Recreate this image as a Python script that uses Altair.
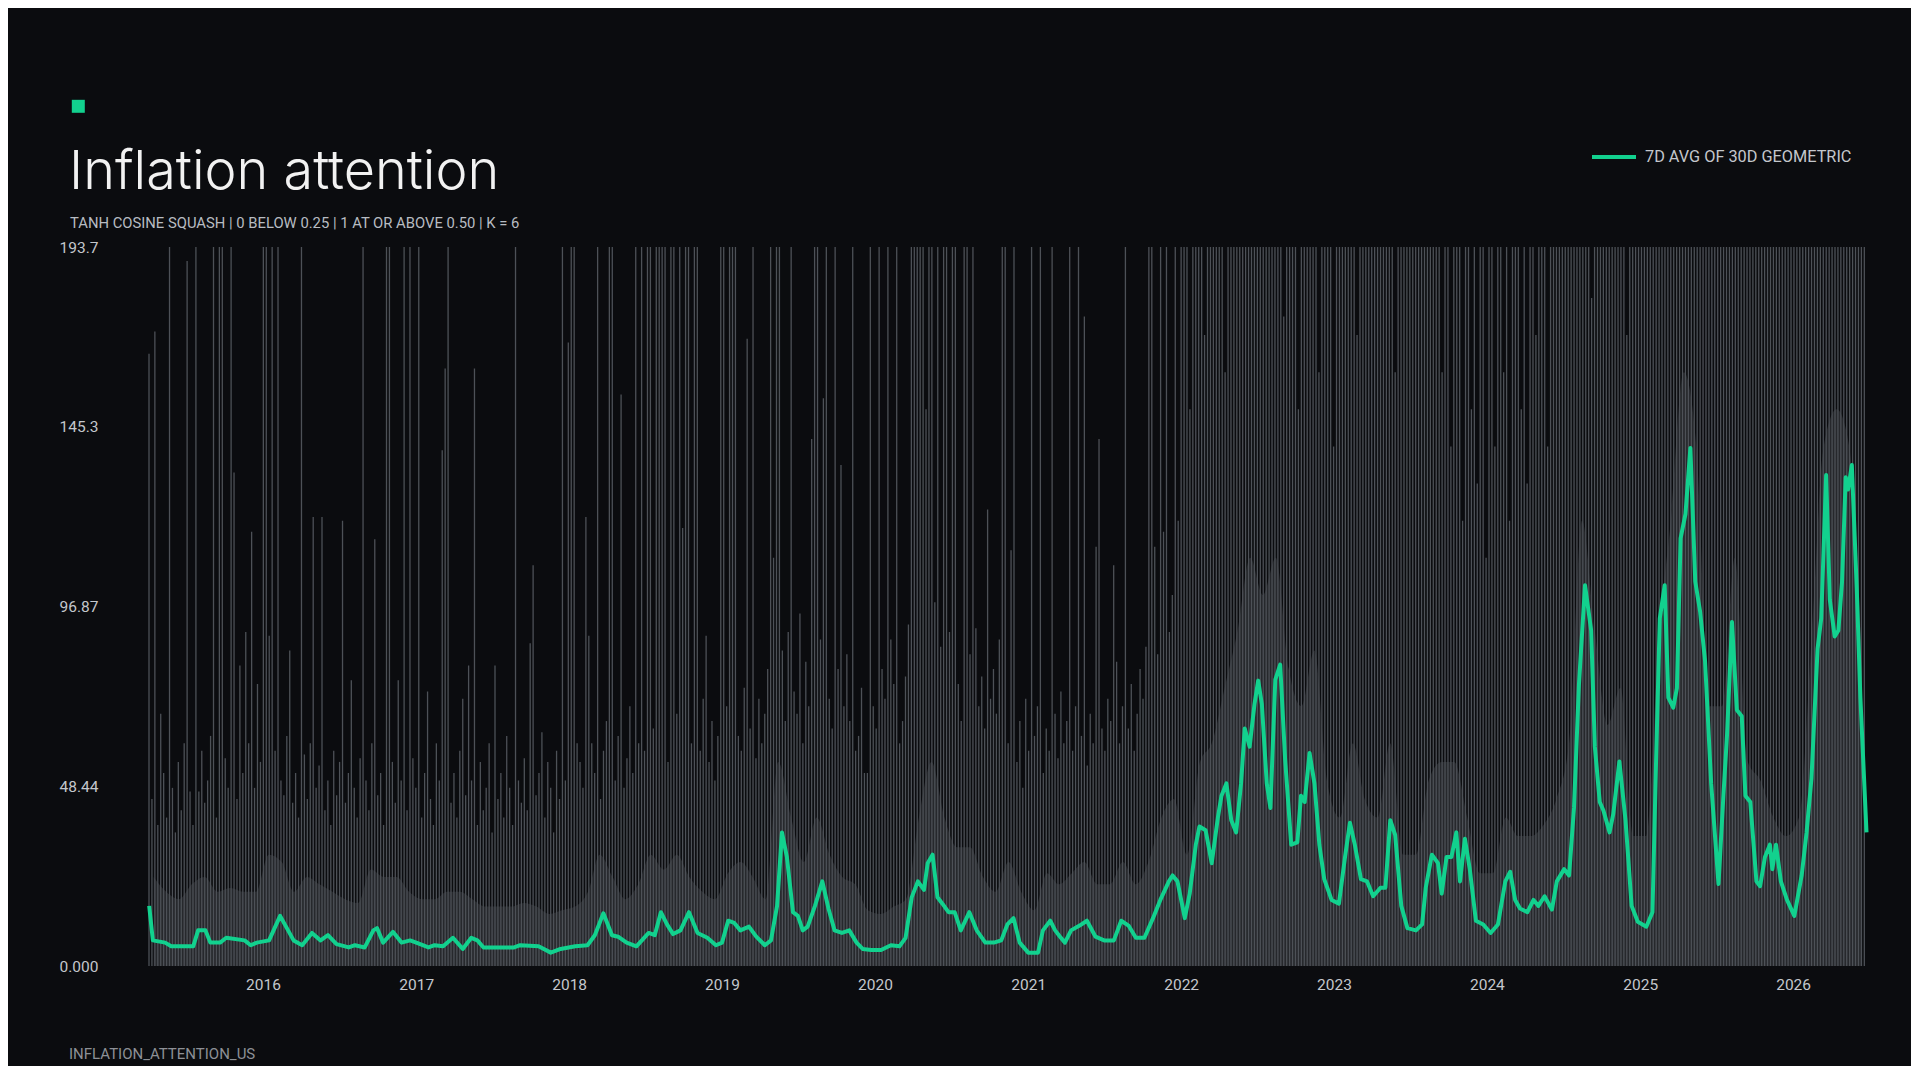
import altair as alt
import pandas as pd

TITLE = "Inflation attention"
SUBTITLE = "TANH COSINE SQUASH | 0 BELOW 0.25 | 1 AT OR ABOVE 0.50 | K = 6"
FOOTER = "INFLATION_ATTENTION_US"
SERIES = "7D AVG OF 30D GEOMETRIC"

GREEN = "#12d18e"
BG = "#0b0c0f"

y_tick_values = [0, 48.436, 96.872, 145.308, 193.744]
y_tick_labels = ["0.000", "48.44", "96.87", "145.3", "193.7"]
x_tick_years = [2016, 2017, 2018, 2019, 2020, 2021, 2022, 2023, 2024, 2025, 2026]

# 7D avg of 30D geometric (decimal year, value)
green_year = [
    2015.256, 2015.28, 2015.36, 2015.40, 2015.544, 2015.576, 2015.624, 2015.656, 2015.72, 2015.76,
    2015.88, 2015.92, 2015.96, 2016.04, 2016.112, 2016.2, 2016.256, 2016.32, 2016.376, 2016.424,
    2016.48, 2016.56, 2016.6, 2016.664, 2016.72, 2016.744, 2016.784, 2016.848, 2016.904, 2016.96,
    2017.0, 2017.08, 2017.12, 2017.176, 2017.24, 2017.304, 2017.36, 2017.4, 2017.44, 2017.64,
    2017.68, 2017.8, 2017.88, 2017.944, 2018.04, 2018.12, 2018.168, 2018.224, 2018.28, 2018.32,
    2018.376, 2018.44, 2018.52, 2018.56, 2018.6, 2018.64, 2018.68, 2018.728, 2018.784, 2018.84,
    2018.904, 2018.96, 2019.0, 2019.04, 2019.08, 2019.12, 2019.176, 2019.224, 2019.28, 2019.32,
    2019.36, 2019.392, 2019.424, 2019.464, 2019.496, 2019.528, 2019.56, 2019.608, 2019.656, 2019.696,
    2019.736, 2019.784, 2019.832, 2019.88, 2019.92, 2019.976, 2020.04, 2020.104, 2020.16, 2020.2,
    2020.24, 2020.28, 2020.32, 2020.344, 2020.376, 2020.408, 2020.44, 2020.48, 2020.52, 2020.56,
    2020.616, 2020.664, 2020.72, 2020.776, 2020.824, 2020.864, 2020.904, 2020.944, 2021.0, 2021.064,
    2021.096, 2021.144, 2021.176, 2021.208, 2021.24, 2021.28, 2021.336, 2021.384, 2021.44, 2021.496,
    2021.56, 2021.608, 2021.656, 2021.704, 2021.76, 2021.816, 2021.864, 2021.92, 2021.944, 2021.976,
    2022.024, 2022.056, 2022.096, 2022.12, 2022.16, 2022.2, 2022.24, 2022.264, 2022.296, 2022.328,
    2022.36, 2022.392, 2022.416, 2022.448, 2022.48, 2022.504, 2022.528, 2022.56, 2022.584, 2022.616,
    2022.648, 2022.68, 2022.72, 2022.76, 2022.784, 2022.808, 2022.84, 2022.872, 2022.904, 2022.936,
    2022.984, 2023.032, 2023.072, 2023.104, 2023.136, 2023.176, 2023.216, 2023.256, 2023.304, 2023.336,
    2023.368, 2023.4, 2023.44, 2023.48, 2023.536, 2023.576, 2023.6, 2023.64, 2023.68, 2023.704,
    2023.736, 2023.768, 2023.8, 2023.824, 2023.856, 2023.888, 2023.928, 2023.976, 2024.024, 2024.072,
    2024.12, 2024.152, 2024.184, 2024.216, 2024.264, 2024.304, 2024.336, 2024.376, 2024.424, 2024.456,
    2024.504, 2024.536, 2024.568, 2024.6, 2024.64, 2024.68, 2024.704, 2024.736, 2024.76, 2024.8,
    2024.824, 2024.864, 2024.904, 2024.944, 2024.984, 2025.04, 2025.08, 2025.104, 2025.128, 2025.16,
    2025.184, 2025.216, 2025.24, 2025.264, 2025.296, 2025.328, 2025.36, 2025.392, 2025.424, 2025.464,
    2025.512, 2025.544, 2025.568, 2025.6, 2025.632, 2025.664, 2025.688, 2025.72, 2025.76, 2025.784,
    2025.816, 2025.848, 2025.864, 2025.888, 2025.92, 2025.96, 2026.008, 2026.056, 2026.088, 2026.12,
    2026.16, 2026.184, 2026.216, 2026.24, 2026.272, 2026.296, 2026.32, 2026.344, 2026.36, 2026.384,
    2026.416, 2026.44, 2026.48,
]
green_value = [
    16.2, 6.9, 6.3, 5.3, 5.3, 9.6, 9.6, 6.3, 6.3, 7.6,
    6.9, 5.6, 6.3, 6.9, 13.5, 6.9, 5.6, 8.9, 6.9, 8.3,
    5.9, 5.0, 5.6, 5.0, 9.6, 10.2, 6.3, 9.2, 6.3, 6.9,
    6.3, 5.0, 5.6, 5.3, 7.6, 4.6, 7.6, 6.9, 5.0, 5.0,
    5.6, 5.3, 3.6, 4.6, 5.3, 5.6, 8.3, 14.2, 8.3, 7.9,
    6.3, 5.3, 8.9, 8.3, 14.5, 11.2, 8.6, 9.6, 14.5, 8.9,
    7.6, 5.6, 6.3, 12.2, 11.6, 9.6, 10.6, 7.9, 5.6, 6.9,
    16.2, 36.0, 29.4, 14.5, 13.5, 9.6, 10.6, 16.2, 22.8, 15.5,
    9.6, 8.9, 9.6, 6.3, 4.6, 4.3, 4.3, 5.6, 5.3, 7.6,
    18.5, 22.8, 20.5, 27.7, 30.0, 18.5, 16.8, 14.5, 14.5, 9.6,
    14.5, 9.6, 6.3, 6.3, 6.9, 11.2, 12.9, 6.3, 3.6, 3.6,
    9.6, 12.2, 9.6, 7.9, 6.3, 9.6, 10.9, 12.2, 7.9, 6.9,
    6.9, 12.2, 10.9, 7.6, 7.6, 12.9, 17.8, 22.8, 24.4, 22.8,
    12.9, 19.5, 32.7, 37.6, 36.6, 27.7, 39.9, 45.9, 49.2, 39.3,
    36.0, 49.2, 64.0, 59.1, 70.6, 76.9, 70.6, 49.2, 42.6, 77.2,
    81.2, 55.8, 32.7, 33.3, 45.9, 44.2, 57.4, 49.2, 32.7, 23.4,
    17.8, 16.8, 29.4, 38.6, 32.7, 23.4, 22.8, 18.8, 21.1, 21.1,
    39.3, 35.3, 16.2, 10.2, 9.6, 11.2, 21.1, 30.0, 27.7, 19.5,
    29.4, 29.4, 36.0, 22.8, 34.3, 26.1, 12.2, 11.2, 8.9, 11.2,
    22.8, 25.4, 17.8, 15.5, 14.5, 17.8, 16.2, 18.8, 15.2, 22.8,
    26.1, 24.4, 42.6, 75.6, 102.6, 90.4, 59.1, 44.2, 41.9, 36.0,
    40.9, 55.1, 39.3, 16.2, 11.9, 10.6, 14.5, 55.8, 93.7, 102.6,
    72.3, 69.6, 74.9, 115.2, 121.8, 139.6, 103.6, 95.4, 82.2, 49.2,
    22.1, 45.9, 62.4, 92.7, 69.0, 67.3, 45.9, 44.2, 22.8, 21.5,
    29.4, 32.7, 26.1, 32.7, 22.8, 17.8, 13.5, 24.4, 36.0, 50.5,
    85.5, 93.7, 132.3, 98.7, 88.8, 90.4, 103.6, 131.7, 128.4, 135.0,
    102.0, 72.3, 36.0,
]

# weekly peak of the daily bars, weeks starting 2015-04-04 (194 = runs past the top)
spike_start = "2015-04-04"
spikes_a = [
    165, 45, 171, 38, 68, 52, 40, 194, 48, 36,
    55, 42, 60, 190, 47, 38, 194, 47, 58, 44,
    50, 62, 194, 40, 194, 194, 56, 48, 194, 133,
    45, 81, 52, 90, 60, 117, 48, 76, 55, 194,
    194, 89, 194, 58, 194, 50, 46, 62, 85, 44,
    52, 40, 194, 57, 45, 60, 121, 48, 54, 121,
    42, 50, 38, 58, 46, 55, 120, 44, 52, 77,
    48, 40, 56, 194, 50, 42, 60, 115, 46, 52,
    38, 194, 194, 55, 44, 77, 50, 194, 42, 194,
    56, 48, 194, 40, 52, 74, 45, 38, 60, 50,
    139, 161, 194, 44, 52, 40, 58, 72, 46, 81,
    50, 161, 38, 55, 42, 48, 60, 36, 81, 45,
    52, 40, 62, 48, 38, 194, 50, 44, 56, 42,
    87, 108, 46, 52, 63, 40, 55, 48, 36, 58,
    45, 194, 50, 168, 194, 194, 60,
]
spikes_b = [
    55, 48, 121, 89, 60, 52, 194, 45, 58, 66,
    194, 194, 50, 62, 154, 48, 56, 70, 52, 194,
    60, 194, 58, 194, 194, 64, 194, 194, 194, 194,
    55, 194, 194, 68, 194, 118, 194, 194, 60, 194,
    194, 58, 72, 89, 55, 66, 50, 62, 194, 194,
    70, 194, 194, 194, 62, 58, 75, 169, 64, 194,
    56, 72, 60, 68, 80, 194, 110, 194, 194, 85,
    66, 90, 194, 74, 68, 95, 60, 82, 70, 142,
    194, 194, 88, 153, 194, 72, 64, 194, 80, 135,
    70, 84, 66, 194, 58, 62, 75, 52, 52, 194,
    70, 64, 194, 80, 72, 194, 88, 76, 194, 60,
    66, 78, 92, 194, 194, 194, 194, 194, 150, 194,
    194, 98, 194, 86, 194, 194, 90, 194, 194, 76,
    66, 194, 194, 84, 194, 91, 70, 78, 64, 123,
    72, 80, 68, 88, 194, 194,
]
spikes_c = [
    60, 112, 194, 55, 66, 48, 72, 58, 194, 62,
    70, 194, 52, 64, 58, 194, 68, 56, 74, 60,
    66, 194, 58, 70, 194, 62, 175, 54, 68, 60,
    113, 142, 64, 58, 72, 66, 108, 82, 60, 70,
    194, 64, 76, 58, 68, 80, 72, 86, 194, 194,
    113, 84, 194, 117, 194, 90, 100, 194, 120, 194,
    194, 194, 150, 194, 194, 194, 194, 170, 194, 194,
    194, 194, 194, 194, 160, 194, 194, 194, 194, 194,
    194, 194, 194, 194, 194, 194, 194, 194, 194, 194,
    194, 194, 194, 194, 175, 194, 194, 194, 194, 150,
    194, 194, 194, 194, 194, 194, 160, 194, 194, 194,
    194, 140, 194, 194, 194, 194, 194, 194, 194, 170,
    194, 194, 194, 194, 194, 194, 194, 194, 194, 194,
    194, 194, 160, 194, 194, 194, 194, 194, 194, 194,
    194, 194, 194, 194, 194, 194,
]
spikes_d = [
    194, 194, 160, 194, 194, 140, 194, 194, 194, 120,
    194, 194, 150, 194, 130, 194, 194, 110, 194, 194,
    140, 194, 194, 160, 194, 120, 194, 194, 194, 150,
    194, 130, 194, 194, 170, 194, 194, 194, 140, 194,
    194, 194, 194, 194, 194, 194, 194, 194, 194, 194,
    194, 194, 194, 180, 194, 194, 194, 194, 194, 194,
    194, 194, 194, 194, 194, 170, 194, 194, 194, 194,
    194, 194, 194, 194, 194, 194, 194, 194, 194, 194,
    194, 194, 194, 194, 194, 194, 194, 194, 194, 194,
    194, 194, 194, 194, 194, 194, 194, 194, 194, 194,
    194, 194, 194, 194, 194, 194, 194, 194, 194, 194,
    194, 194, 194, 194, 194, 194, 194, 194, 194, 194,
    194, 194, 194, 194, 194, 194, 194, 194, 194, 194,
    194, 194, 194, 194, 194, 194, 194, 194, 194, 194,
    194, 194, 194, 194, 194, 194, 194,
]

# monthly level of the dense part of the daily bars, from April 2015
floor_start = "2015-04-01"
floor_2015 = [24, 20, 18, 22, 24, 20, 21, 20, 20]
floor_2016 = [30, 28, 20, 24, 22, 20, 18, 17, 26, 24, 24, 20]
floor_2017 = [18, 18, 20, 20, 18, 16, 16, 16, 17, 16, 14, 15]
floor_2018 = [16, 20, 30, 24, 18, 22, 30, 26, 30, 24, 20, 18]
floor_2019 = [25, 28, 24, 18, 55, 40, 28, 40, 30, 24, 22, 15]
floor_2020 = [14, 16, 18, 40, 55, 40, 32, 32, 24, 20, 28, 20]
floor_2021 = [15, 25, 22, 25, 28, 22, 22, 28, 22, 28, 40, 45]
floor_2022 = [30, 55, 60, 75, 90, 110, 100, 110, 80, 70, 85, 50]
floor_2023 = [40, 60, 45, 40, 60, 30, 30, 50, 55, 55, 40, 25]
floor_2024 = [25, 40, 35, 35, 38, 45, 60, 120, 90, 65, 75, 35]
floor_2025 = [35, 90, 120, 160, 140, 70, 70, 110, 55, 50, 40, 35]
floor_2026 = [40, 90, 140, 150, 140, 80]


def dec_to_ts(d):
    y = int(d)
    a = pd.Timestamp(y, 1, 1)
    b = pd.Timestamp(y + 1, 1, 1)
    return a + (b - a) * (d - y)


green_df = pd.DataFrame({
    "date": [dec_to_ts(d) for d in green_year],
    "value": green_value,
    "series": SERIES,
})

spike_values = spikes_a + spikes_b + spikes_c + spikes_d
spike_df = pd.DataFrame({
    "date": pd.date_range(spike_start, periods=len(spike_values), freq="7D"),
    "value": spike_values,
})

floor_values = (floor_2015 + floor_2016 + floor_2017 + floor_2018 + floor_2019 + floor_2020
                + floor_2021 + floor_2022 + floor_2023 + floor_2024 + floor_2025 + floor_2026)
floor_df = pd.DataFrame({
    "date": pd.date_range(floor_start, periods=len(floor_values), freq="MS") + pd.Timedelta(days=14),
    "value": floor_values,
})

xs = alt.Scale(domain=[alt.DateTime(year=2015, month=4, date=4),
                       alt.DateTime(year=2026, month=6, date=24)])
ys = alt.Scale(domain=[0, y_tick_values[-1]], nice=False, zero=True, clamp=True)

label_expr = "[{}][indexof([{}], datum.value)]".format(
    ", ".join("'{}'".format(s) for s in y_tick_labels),
    ", ".join(str(v) for v in y_tick_values),
)

x_axis = alt.Axis(
    values=[alt.DateTime(year=y, month=1, date=1) for y in x_tick_years],
    format="%Y", title=None, domain=False, ticks=False, tickSize=0, grid=False,
    labelPadding=11, labelFlush=False, labelFont="Roboto", labelFontSize=15.5,
    labelColor="#c4c7cc",
)
y_axis = alt.Axis(
    values=y_tick_values, labelExpr=label_expr, title=None, domain=False, ticks=False,
    tickSize=0, grid=False, labelPadding=51, labelFont="Roboto", labelFontSize=15.5,
    labelColor="#c4c7cc",
)

floor = alt.Chart(floor_df).mark_area(color="#26282c", interpolate="monotone").encode(
    x=alt.X("date:T", scale=xs, axis=x_axis),
    y=alt.Y("value:Q", scale=ys, axis=y_axis),
)

spikes = alt.Chart(spike_df).mark_rule(color="#4d5157", strokeWidth=1.3).encode(
    x=alt.X("date:T", scale=xs),
    y=alt.Y("value:Q", scale=ys),
    y2=alt.datum(0),
)

line = alt.Chart(green_df).mark_line(strokeWidth=4, strokeJoin="round").encode(
    x=alt.X("date:T", scale=xs),
    y=alt.Y("value:Q", scale=ys),
    color=alt.Color(
        "series:N",
        scale=alt.Scale(domain=[SERIES], range=[GREEN]),
        legend=alt.Legend(
            title=None, orient="none", legendX=1441, legendY=-114, padding=0,
            symbolType="stroke", symbolStrokeWidth=4, symbolSize=1936,
            labelFont="Roboto", labelFontSize=16.3, labelColor="#c4c7cc", labelOffset=7,
            labelLimit=400,
        ),
    ),
)

text_df = pd.DataFrame({"title": [TITLE], "subtitle": [SUBTITLE], "footer": [FOOTER]})

square = alt.Chart(text_df).mark_square(size=169, color=GREEN, opacity=1, filled=True).encode(
    x=alt.value(-70.7), y=alt.value(-140.7)
)
title = alt.Chart(text_df).mark_text(
    align="left", baseline="alphabetic", font="Inter", fontWeight=300, fontSize=54, color="#f2f2f2"
).encode(x=alt.value(-80), y=alt.value(-58), text="title:N")
subtitle = alt.Chart(text_df).mark_text(
    align="left", baseline="alphabetic", font="Roboto", fontSize=14.8, color="#b8bcc2"
).encode(x=alt.value(-79), y=alt.value(-19.5), text="subtitle:N")
footer = alt.Chart(text_df).mark_text(
    align="left", baseline="alphabetic", font="Roboto", fontSize=15, color="#8d9096"
).encode(x=alt.value(-80), y=alt.value(812), text="footer:N")

chart = alt.layer(floor, spikes, line, square, title, subtitle, footer).properties(
    width=1717, height=719,
    padding={"left": 141, "top": 239, "right": 45, "bottom": 100},
    autosize=alt.AutoSizeParams(type="none"),
).configure(background=BG).configure_view(stroke=None)

chart.save("out.html", embed_options={"renderer": "svg", "actions": False})
